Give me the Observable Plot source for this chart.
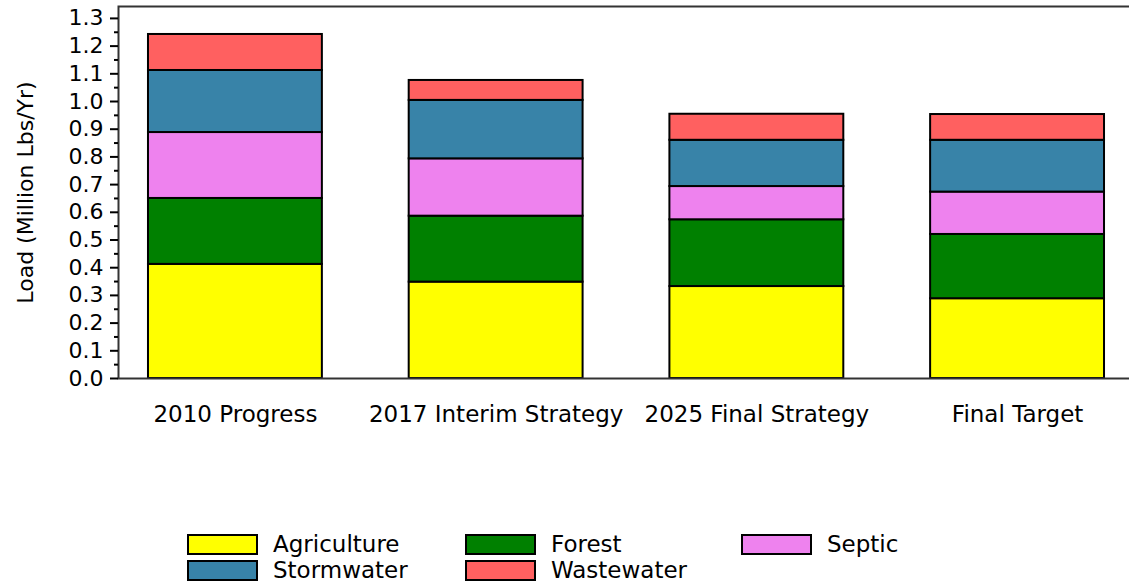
<!DOCTYPE html>
<html>
<head>
<meta charset="utf-8">
<script src="https://cdn.jsdelivr.net/npm/d3@7"></script>
<script src="https://cdn.jsdelivr.net/npm/@observablehq/plot@0.6"></script>
<style>
  html, body { margin: 0; padding: 0; background: #fff; overflow: hidden; }
  #wrap { position: relative; width: 1129px; height: 586px; overflow: hidden; background: #fff; font-family: "DejaVu Sans", sans-serif; }
  #chart { position: absolute; left: 0; top: 0; width: 1136px; }
  #chart svg { max-width: none !important; }
  .leg { position: absolute; display: flex; align-items: center; font-size: 23px; color: #000; }
  .sw { width: 67px; height: 17px; border: 2px solid #000; margin-right: 15px; }
</style>
</head>
<body>
<div id="wrap"><div id="chart"></div></div>
<script>
const categories = ["2010 Progress", "2017 Interim Strategy", "2025 Final Strategy", "Final Target"];
const sources = ["Agriculture", "Forest", "Septic", "Stormwater", "Wastewater"];
const colors = ["#ffff00", "#008000", "#ee82ee", "#3883a8", "#ff6060"];
const agriculture = [0.412, 0.348, 0.332, 0.288];
const forest      = [0.238, 0.238, 0.241, 0.232];
const septic      = [0.238, 0.207, 0.120, 0.153];
const stormwater  = [0.224, 0.211, 0.167, 0.187];
const wastewater  = [0.130, 0.072, 0.094, 0.093];
const yMajorTicks = [0, 0.1, 0.2, 0.3, 0.4, 0.5, 0.6, 0.7, 0.8, 0.9, 1.0, 1.1, 1.2, 1.3];
const yMinorTicks = [0.05, 0.15, 0.25, 0.35, 0.45, 0.55, 0.65, 0.75, 0.85, 0.95, 1.05, 1.15, 1.25];
const yMax = 1.343;
const yTitle = "Load (Million Lbs/Yr)";

const series = [agriculture, forest, septic, stormwater, wastewater];
const rows = categories.flatMap((c, i) => sources.map((s, j) => ({category: c, source: s, value: series[j][i]})));

const chart = Plot.plot({
  width: 1136,
  height: 440,
  marginLeft: 118,
  marginRight: 2,
  marginTop: 6,
  marginBottom: 62,
  style: {fontFamily: "DejaVu Sans, sans-serif", fontSize: "22px", color: "#000", background: "#fff", overflow: "hidden", maxWidth: "none"},
  x: {domain: categories, paddingInner: 0.333, paddingOuter: 0.115, round: false, axis: null},
  y: {domain: [0, yMax], axis: null},
  color: {domain: sources, range: colors},
  marks: [
    Plot.barY(rows, {x: "category", y: "value", fill: "source", order: sources, stroke: "#000", strokeWidth: 2}),
    Plot.frame({stroke: "#333", strokeWidth: 2, insetRight: -40}),
    Plot.axisY(yMinorTicks, {tickSize: 4, tickFormat: () => "", label: null, stroke: "#000", strokeWidth: 2}),
    Plot.axisY(yMajorTicks, {tickSize: 8, tickPadding: 7, tickFormat: d3.format(".1f"), label: null, stroke: "#000", strokeWidth: 2, fontSize: 22}),
    Plot.axisX({tickSize: 0, tickPadding: 27, label: null, fontSize: 23}),
    Plot.text([yTitle], {frameAnchor: "left", textAnchor: "middle", rotate: -90, dx: -93, fontSize: 22, fill: "#000"})
  ]
});
document.getElementById("chart").appendChild(chart);

const wrap = document.getElementById("wrap");
const colX = [187, 465, 741];
sources.forEach((s, i) => {
  const d = document.createElement("div");
  d.className = "leg";
  d.style.left = colX[i % 3] + "px";
  d.style.top = (531 + Math.floor(i / 3) * 26) + "px";
  const sw = document.createElement("div");
  sw.className = "sw";
  sw.style.background = colors[i];
  const t = document.createElement("span");
  t.textContent = s;
  d.appendChild(sw);
  d.appendChild(t);
  wrap.appendChild(d);
});
</script>
</body>
</html>
